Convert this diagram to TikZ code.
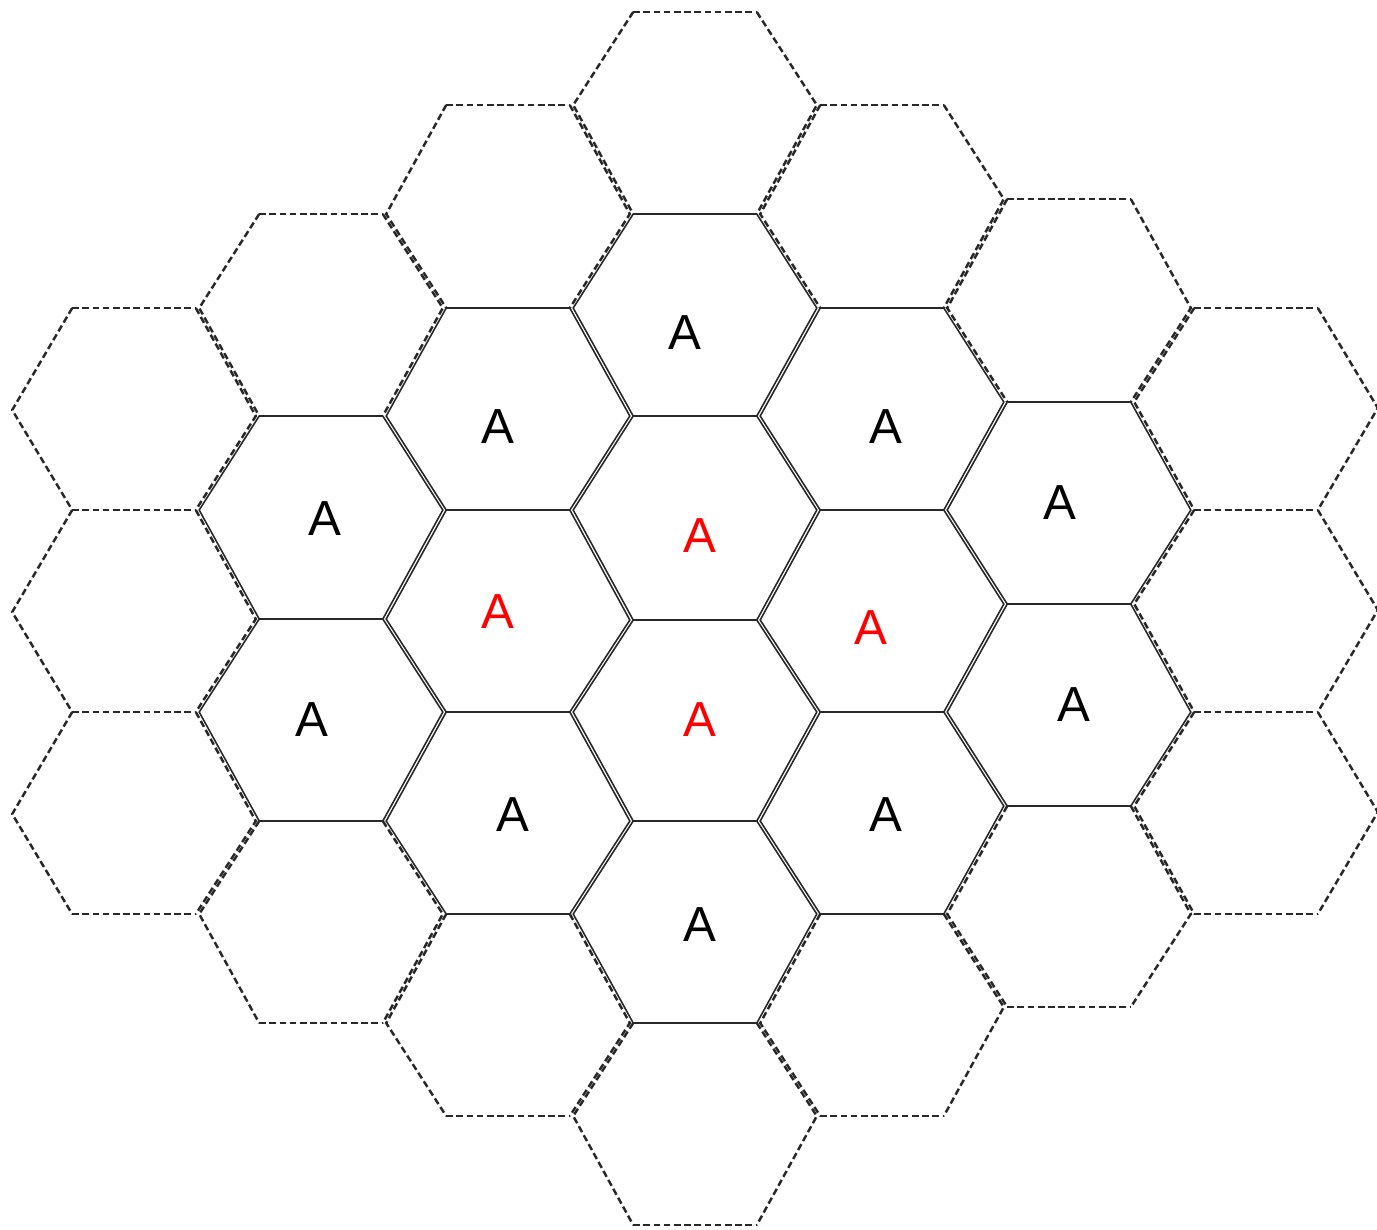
\documentclass[tikz,border=0pt]{standalone}
\usepackage{fontspec}
\setmainfont{Liberation Sans}
\definecolor{edgegray}{RGB}{40,40,40}
\tikzset{
  cellsolid/.style={draw=edgegray, line width=0.45pt, line join=miter},
  celldash/.style={draw=edgegray, line width=0.7pt, dash pattern=on 1.9pt off 1pt},
  lblblack/.style={font=\fontsize{14}{16}\selectfont, text=black, inner sep=0pt},
  lblred/.style={font=\fontsize{14}{16}\selectfont, text=red, inner sep=0pt}
}
% half width and half top-edge length (in px), shrunk slightly so neighbouring edges double
\def\hR{121.8}
\def\ha{61.8}
% #1 style, #2 centre x, #3 top y, #4 bottom y, #5 left vertex y, #6 right vertex y
\newcommand{\hexcell}[6]{%
  \path[#1] ({#2-\ha},#3) -- ({#2+\ha},#3);
  \path[#1] ({#2-\ha},#4) -- ({#2+\ha},#4);
  \path[#1] ({#2+\ha},#3) -- ({#2+\hR},#6) -- ({#2+\ha},#4);
  \path[#1] ({#2-\ha},#3) -- ({#2-\hR},#5) -- ({#2-\ha},#4);
}
\begin{document}
\begin{tikzpicture}[x=0.01cm,y=-0.01cm]
\useasboundingbox (0,0) rectangle (1377,1229);
% ---- dashed cells ----
% column 0
\hexcell{celldash}{134}{308}{510}{410}{416}
\hexcell{celldash}{134}{510}{712}{612}{619}
\hexcell{celldash}{134}{712}{914}{814}{821}
% column 1
\hexcell{celldash}{321}{214}{416}{308}{308}
\hexcell{celldash}{321}{821}{1023}{914}{914}
% column 2
\hexcell{celldash}{508}{105}{308}{214}{214}
\hexcell{celldash}{508}{914}{1116}{1023}{1023}
% column 3
\hexcell{celldash}{695}{12}{214}{105}{105}
\hexcell{celldash}{695}{1023}{1225}{1116}{1116}
% column 4
\hexcell{celldash}{882}{105}{308}{214}{199}
\hexcell{celldash}{882}{914}{1116}{1023}{1007}
% column 5
\hexcell{celldash}{1069}{199}{402}{308}{308}
\hexcell{celldash}{1069}{806}{1007}{914}{914}
% column 6
\hexcell{celldash}{1256}{308}{510}{402}{408}
\hexcell{celldash}{1256}{510}{712}{604}{610}
\hexcell{celldash}{1256}{712}{914}{806}{812}
% ---- solid cells ----
\hexcell{cellsolid}{321}{416}{619}{510}{510}
\hexcell{cellsolid}{321}{619}{821}{712}{712}
\hexcell{cellsolid}{508}{308}{510}{416}{416}
\hexcell{cellsolid}{508}{510}{712}{619}{620}
\hexcell{cellsolid}{508}{712}{914}{821}{821}
\hexcell{cellsolid}{695}{214}{416}{308}{308}
\hexcell{cellsolid}{695}{416}{620}{510}{510}
\hexcell{cellsolid}{695}{620}{821}{712}{712}
\hexcell{cellsolid}{695}{821}{1023}{914}{914}
\hexcell{cellsolid}{882}{308}{510}{416}{402}
\hexcell{cellsolid}{882}{510}{712}{620}{604}
\hexcell{cellsolid}{882}{712}{914}{821}{806}
\hexcell{cellsolid}{1069}{402}{604}{510}{510}
\hexcell{cellsolid}{1069}{604}{806}{712}{712}
% ---- labels ----
\node[lblblack] (a1) at (685,333) {A};
\node[lblblack] (a2) at (498,427) {A};
\node[lblblack] (a3) at (886,427) {A};
\node[lblblack] (a4) at (325,519) {A};
\node[lblred]   (r1) at (700,536) {A};
\node[lblblack] (a5) at (1060,503) {A};
\node[lblred]   (r2) at (498,612) {A};
\node[lblred]   (r3) at (871,628) {A};
\node[lblblack] (a6) at (312,720) {A};
\node[lblred]   (r4) at (700,720) {A};
\node[lblblack] (a7) at (1074,705) {A};
\node[lblblack] (a8) at (513,815) {A};
\node[lblblack] (a9) at (886,815) {A};
\node[lblblack] (a10) at (700,925) {A};
\end{tikzpicture}
\end{document}
